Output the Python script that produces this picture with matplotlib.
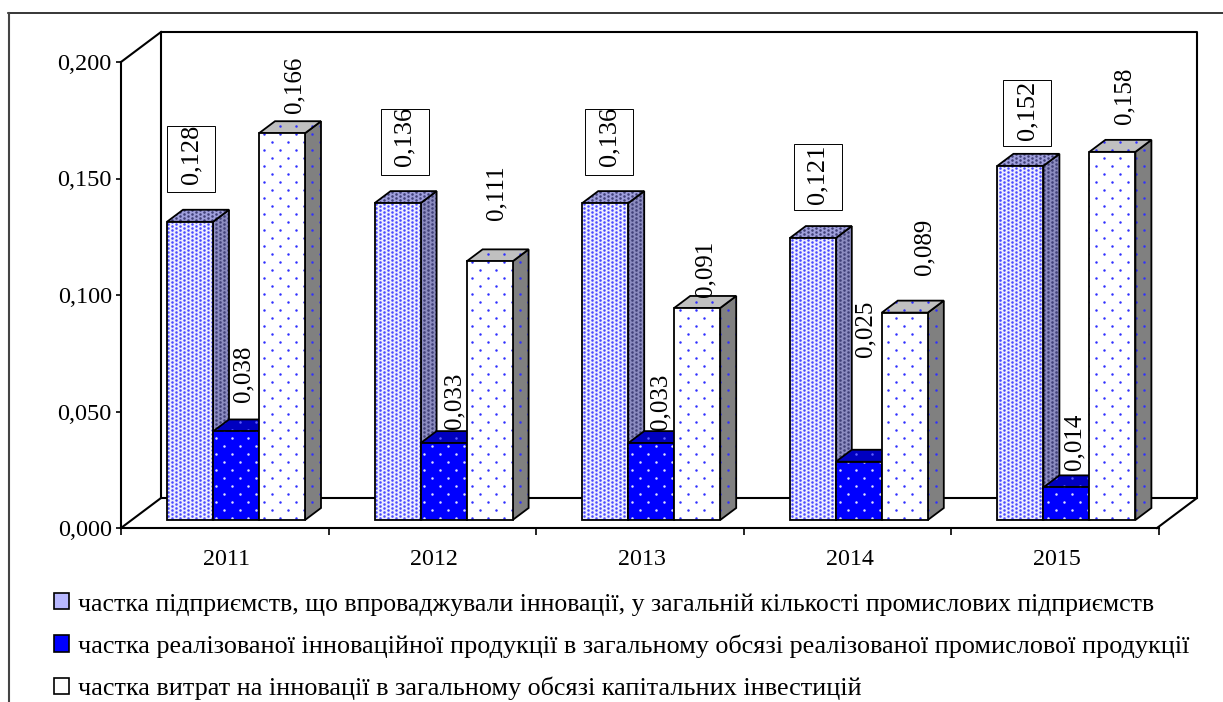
import numpy as np
import matplotlib
matplotlib.use('Agg')
import matplotlib.pyplot as plt
from matplotlib.lines import Line2D
from matplotlib.patches import Patch, Polygon, Rectangle
from matplotlib.transforms import IdentityTransform

years = ['2011', '2012', '2013', '2014', '2015']
firms_share = [0.128, 0.136, 0.136, 0.121, 0.152]
product_share = [0.038, 0.033, 0.033, 0.025, 0.014]
costs_share = [0.166, 0.111, 0.091, 0.089, 0.158]
y_ticks = [0.0, 0.05, 0.1, 0.15, 0.2]
y_tick_labels = ['0,000', '0,050', '0,100', '0,150', '0,200']
legend_labels = [
    'частка підприємств, що впроваджували інновації, у загальній кількості промислових підприємств',
    'частка реалізованої інноваційної продукції в загальному обсязі реалізованої промислової продукції',
    'частка витрат на інновації в загальному обсязі капітальних інвестицій',
]

W, H = 1223, 702
AX_L, AX_R, AX_T, AX_B = 121, 1159, 62, 528
X_PX = (AX_R - AX_L) / 5
Y_PX = (AX_B - AX_T) / 0.2

# hand placed label offsets in px: (right of bar centre, above bar top)
label_dx = [
    [0, 6, 3, 4, 6],
    [7, 11, 9, 7, 8],
    [12, 7, 8, 20, 12],
]
label_gaps = [
    [30, 28, 28, 28, 20],
    [29, 14, 13, 105, 17],
    [20, 41, 11, 38, 28],
]
# text inside the boxes sits a bit high, some of it gets cut by the box
box_lift = [8, 9, 9, 6, 6]

plt.rcParams['font.family'] = ['Liberation Serif', 'DejaVu Serif']
FS_LABEL = 18
FS_BOXED = 19
FS_YTICK = 17.5
FS_XTICK = 17.3
FS_LEGEND = 18.8

fig = plt.figure(figsize=(W / 100, H / 100), dpi=100)
ax = fig.add_axes([AX_L / W, 1 - AX_B / H, (AX_R - AX_L) / W, (AX_B - AX_T) / H])
ax.set_xlim(0, 5)
ax.set_ylim(0, 0.2)
ax.patch.set_visible(False)


def px(x, y):
    # pixel offset from the axes origin -> data units
    return x / X_PX, y / Y_PX


def dots(poly, color, sx, sy, size, z):
    # staggered dot texture clipped to a face, grid fixed in screen pixels
    pts = ax.transData.transform(poly.get_xy())
    x0, x1 = pts[:, 0].min(), pts[:, 0].max()
    y0, y1 = pts[:, 1].min(), pts[:, 1].max()
    xs, ys = [], []
    for i, yy in enumerate(np.arange(np.floor(y0 / sy) * sy, y1 + sy, sy)):
        shift = sx / 2 if i % 2 else 0
        for xx in np.arange(np.floor(x0 / sx) * sx, x1 + sx, sx):
            xs.append(xx + shift)
            ys.append(yy)
    sc = ax.scatter(xs, ys, s=size, c=color, linewidths=0, zorder=z,
                    transform=IdentityTransform(), clip_on=True)
    sc.set_clip_path(poly)


styles = [
    {'front': '#eeeeff', 'top': '#a0a0dc', 'side': '#8c8cc0', 'dot': '#4a4aff',
     'top_dot': '#404078', 'sx': 8, 'sy': 2, 'size': 3.4},
    {'front': '#0000ff', 'top': '#0000c0', 'side': '#0000a0', 'dot': '#e0e0ff',
     'top_dot': '#6060ff', 'sx': 16, 'sy': 8, 'size': 3.2},
    {'front': '#ffffff', 'top': '#c0c0c0', 'side': '#808080', 'dot': '#3030ff',
     'top_dot': '#3030ff', 'sx': 16, 'sy': 8, 'size': 3.2},
]

series = [firms_share, product_share, costs_share]
BAR_W = 46 / X_PX
GROUP_OFF = 46 / X_PX
DX, DY = px(16, 12)
BASE = 8 / Y_PX

z = 3
for g in range(len(years)):
    for s, vals in enumerate(series):
        st = styles[s]
        x0 = g + GROUP_OFF + s * BAR_W
        x1 = x0 + BAR_W
        y0 = BASE
        y1 = BASE + vals[g]
        front = [(x0, y0), (x1, y0), (x1, y1), (x0, y1)]
        side = [(x1, y0), (x1 + DX, y0 + DY), (x1 + DX, y1 + DY), (x1, y1)]
        top = [(x0, y1), (x1, y1), (x1 + DX, y1 + DY), (x0 + DX, y1 + DY)]
        for pts, fc, dc in [(side, st['side'], st['top_dot'] if s == 0 else st['dot']),
                            (top, st['top'], st['top_dot']),
                            (front, st['front'], st['dot'])]:
            face = Polygon(pts, closed=True, fc=fc, ec='none', zorder=z, clip_on=False)
            ax.add_patch(face)
            dots(face, dc, st['sx'], st['sy'], st['size'], z)
            ax.add_patch(Polygon(pts, closed=True, fc='none', ec='black', lw=1.3,
                                 joinstyle='miter', zorder=z, clip_on=False))
        z += 1

# labels above everything
for s, vals in enumerate(series):
    for g, v in enumerate(vals):
        x0 = g + GROUP_OFF + s * BAR_W
        dx = label_dx[s][g]
        y_top = BASE + v
        gap = label_gaps[s][g]
        txt = ('%.3f' % v).replace('.', ',')
        if s == 0:
            xc = x0 + dx / X_PX + 24 / X_PX
            off = gap + box_lift[g]
        else:
            xc = x0 + BAR_W / 2 + dx / X_PX
            off = gap
        t = ax.annotate(txt, (xc, y_top), xytext=(0, off * 0.72),
                        textcoords='offset points', rotation=90, ha='center',
                        va='bottom', fontsize=FS_BOXED if s == 0 else FS_LABEL,
                        annotation_clip=False, zorder=200)
        if s == 0:
            bw, bh = 48 / X_PX, 66 / Y_PX
            rect = Rectangle((x0 + dx / X_PX, y_top + gap / Y_PX), bw, bh, fc='white',
                             ec='black', lw=0.7, zorder=199, clip_on=False)
            ax.add_patch(rect)
            t.set_clip_on(True)
            t.set_clip_path(rect)

# walls
WX, WY = px(40, 30)
line_kw = dict(color='black', lw=1.5, clip_on=False, solid_capstyle='projecting')
ax.plot([WX, WX, 5 + WX - 2 / X_PX, 5 + WX - 2 / X_PX], [WY, 0.2 + WY, 0.2 + WY, WY], zorder=2, **line_kw)
ax.plot([WX, 5 + WX - 2 / X_PX, 5 - 2 / X_PX], [WY, WY, 0], zorder=2, **line_kw)
ax.plot([0, WX], [0, WY], zorder=2, **line_kw)
ax.plot([0, WX], [0.2, 0.2 + WY], zorder=2, **line_kw)

for side_name in ['top', 'right']:
    ax.spines[side_name].set_visible(False)
ax.spines['left'].set_linewidth(1.5)
ax.spines['bottom'].set_linewidth(1.5)

ax.set_yticks(y_ticks)
ax.set_yticklabels(y_tick_labels, fontsize=FS_YTICK)
ax.set_xticks(range(6))
ax.set_xticklabels([])
ax.set_xticks(np.arange(5) + 0.5 + 2 / X_PX, labels=years, minor=True, fontsize=FS_XTICK)
ax.tick_params(axis='y', length=3.6, width=1.2, pad=3)
ax.tick_params(axis='x', which='major', length=5, width=1.2)
ax.tick_params(axis='x', which='minor', length=0, pad=15)

# legend
handles = [
    Patch(fc='#b8b8ff', ec='black', lw=1.2),
    Patch(fc='#0000ff', ec='black', lw=1.2),
    Patch(fc='white', ec='black', lw=1.2),
]
leg = fig.legend(handles, legend_labels, loc='upper left',
                 bbox_to_anchor=(54 / W, 1 - 593 / H), frameon=False, fontsize=FS_LEGEND,
                 handlelength=0.58, handleheight=0.58, handletextpad=0.35,
                 labelspacing=0.717, borderpad=0, borderaxespad=0)
leg.get_texts()[0].set_fontsize(18.5)

# outer frame of the pasted picture
fig.add_artist(Line2D([8 / W, 1], [1 - 12.5 / H, 1 - 12.5 / H], color='black', lw=1.1))
fig.add_artist(Line2D([8.5 / W, 8.5 / W], [0, 1 - 12.5 / H], color='#444444', lw=1.5))

fig.savefig('out.png', dpi=100)
